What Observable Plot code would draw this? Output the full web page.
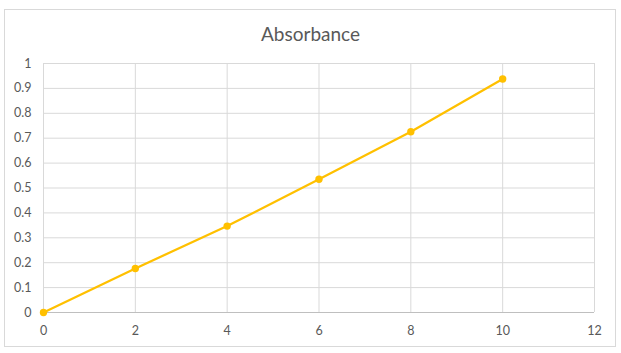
<!DOCTYPE html>
<html>
<head>
<meta charset="utf-8">
<script src="https://cdn.jsdelivr.net/npm/d3@7"></script>
<script src="https://cdn.jsdelivr.net/npm/@observablehq/plot@0.6"></script>
<style>
  html, body { margin: 0; padding: 0; background: #fff; }
  #wrap { position: relative; width: 621px; height: 353px; }
  #border { position: absolute; left: 4px; top: 9px; width: 612px; height: 338px; border: 1px solid #d9d9d9; box-sizing: border-box; pointer-events: none; }
</style>
</head>
<body>
<div id="wrap"><div id="border"></div></div>
<script>
const title = "Absorbance";
const xValues = [0, 2, 4, 6, 8, 10];
const absorbance = [0.0, 0.177, 0.347, 0.535, 0.726, 0.938];
const xTicks = [0, 2, 4, 6, 8, 10, 12];
const yTicks = [0, 0.1, 0.2, 0.3, 0.4, 0.5, 0.6, 0.7, 0.8, 0.9, 1];
const yTickLabels = ["0", "0.1", "0.2", "0.3", "0.4", "0.5", "0.6", "0.7", "0.8", "0.9", "1"];

const data = xValues.map((x, i) => ({x, y: absorbance[i]}));
const color = "#FFC000";
const font = "Lato, 'Open Sans', sans-serif";

const chart = Plot.plot({
  width: 621,
  height: 353,
  marginLeft: 43,
  marginRight: 27,
  marginTop: 63,
  marginBottom: 41,
  style: { fontFamily: font, fontSize: "12px", color: "#595959", background: "transparent" },
  x: { domain: [0, 12], ticks: xTicks, label: null },
  y: { domain: [0, 1], ticks: yTicks, label: null },
  marks: [
    Plot.gridX(xTicks, { stroke: "#d9d9d9", strokeOpacity: 1 }),
    Plot.gridY(yTicks, { stroke: "#d9d9d9", strokeOpacity: 1 }),
    Plot.ruleY([0], { stroke: "#bfbfbf" }),
    Plot.axisX(xTicks, { tickSize: 0, tickPadding: 14, fill: "#595959", fontSize: 12.5 }),
    Plot.axisY(yTicks, { tickSize: 0, tickPadding: 12, fill: "#595959", fontSize: 12.5,
      tickFormat: (d) => yTickLabels[yTicks.indexOf(d)] }),
    Plot.line(data, { x: "x", y: "y", stroke: color, strokeWidth: 2.25 }),
    Plot.dot(data, { x: "x", y: "y", r: 3.7, fill: color, stroke: "none" }),
    Plot.text([title], { frameAnchor: "top", dy: -23, dx: -8.5, fontSize: 19, fill: "#595959", fontFamily: font, lineAnchor: "bottom" })
  ]
});
document.getElementById("wrap").appendChild(chart);
</script>
</body>
</html>
